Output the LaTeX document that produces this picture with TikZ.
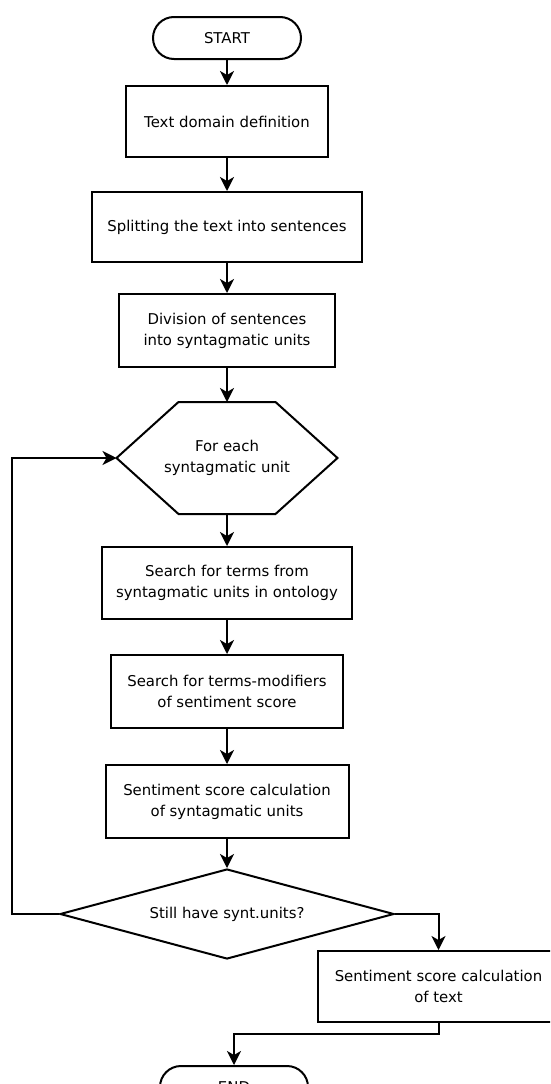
\documentclass[tikz,border=0pt]{standalone}
\usepackage{fontspec}
\setmainfont{DejaVu Sans}
\usetikzlibrary{positioning, arrows.meta, shapes.geometric}

\begin{document}
\begin{tikzpicture}[
    x=1pt, y=-1pt,
    >={Stealth[length=14pt, width=14pt, inset=4pt]},
    line width=2pt,
    font=\fontsize{14.9}{21}\selectfont,
    proc box/.style={draw, rectangle, align=center, inner sep=0pt},
    term box/.style={draw, rectangle, rounded corners=21pt,
                     minimum width=148pt, minimum height=42pt, inner sep=0pt},
    loop hex/.style={rectangle, align=center, inner sep=0pt,
                     minimum width=219pt, minimum height=110pt},
    cond dia/.style={draw, diamond, aspect=3.7, inner sep=0pt,
                     minimum width=334pt, minimum height=90pt},
]

\def\cx{227}  % main column

% --- page frame ---
\clip (0,0) rectangle (550,1084);

% =====================================================================
%  MAIN COLUMN
% =====================================================================
\node[term box] (start) at (\cx, 38) {START};

\node[proc box, minimum width=202pt, minimum height=71pt] (define)
    at (\cx, 121.5) {Text domain definition};
\node[proc box, minimum width=270pt, minimum height=70pt] (split)
    at (\cx, 227) {Splitting the text into sentences};
\node[proc box, minimum width=216pt, minimum height=73pt] (divide)
    at (\cx, 330.5) {Division of sentences\\into syntagmatic units};

% --- loop head (hexagon) ---
\node[loop hex] (each) at (\cx, 458) {For each\\syntagmatic unit};
\draw (each.west) -- ([xshift=62pt]each.north west)
    -- ([xshift=-62pt]each.north east) -- (each.east)
    -- ([xshift=-62pt]each.south east) -- ([xshift=62pt]each.south west)
    -- cycle;

\node[proc box, minimum width=250pt, minimum height=72pt] (search)
    at (\cx, 583) {Search for terms from\\syntagmatic units in ontology};
\node[proc box, minimum width=232pt, minimum height=73pt] (modif)
    at (\cx, 691.5) {Search for terms-modifiers\\of sentiment score};
\node[proc box, minimum width=243pt, minimum height=73pt] (unitscore)
    at (\cx, 801.5) {Sentiment score calculation\\of syntagmatic units};

\node[cond dia] (still) at (\cx, 914) {Still have synt.units?};

% --- exit branch ---
\node[proc box, minimum width=242pt, minimum height=71pt] (textscore)
    at (438.5, 986.5) {Sentiment score calculation\\of text};
\node[term box] (end) at (234, 1087) {END};

\coordinate (back) at (12, 914);

% =====================================================================
%  CONNECTORS
% =====================================================================
\draw[->] (start) -- (define);
\draw[->] (define) -- (split);
\draw[->] (split) -- (divide);
\draw[->] (divide) -- (each.north);
\draw[->] (each.south) -- (search);
\draw[->] (search) -- (modif);
\draw[->] (modif) -- (unitscore);
\draw[->] (unitscore) -- (still.north);

% --- loop back ---
\draw[->] (still.west) -- (back) |- (each.west);

% --- exit ---
\draw[->] (still.east) -| (textscore.north);
\draw[->] (textscore.south) -- ++(0,11) -| (end.north);

\end{tikzpicture}
\end{document}
